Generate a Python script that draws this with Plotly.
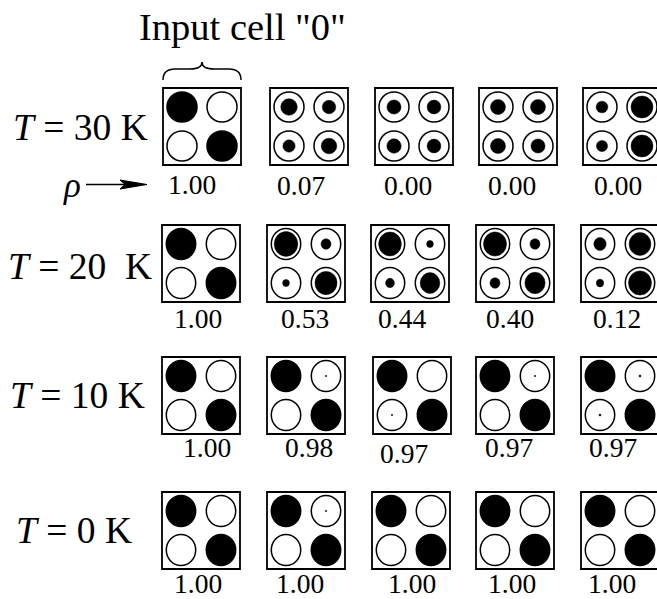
import plotly.graph_objects as go

# ---------------- data ----------------
temperature_labels = ["30", "20", "10", "0"]

# polarization rho of each cell in the line (input cell first)
rho_30K = [1.00, 0.07, 0.00, 0.00, 0.00]
rho_20K = [1.00, 0.53, 0.44, 0.40, 0.12]
rho_10K = [1.00, 0.98, 0.97, 0.97, 0.97]
rho_0K = [1.00, 1.00, 1.00, 1.00, 1.00]

# charge in each quantum dot (radius of filled disc / dot radius), order TL, TR, BL, BR
dots_30K = [[1, 0, 0, 1], [0.55, 0.45, 0.41, 0.52], [0.47, 0.46, 0.48, 0.46],
            [0.50, 0.50, 0.50, 0.47], [0.39, 0.73, 0.37, 0.73]]
dots_20K = [[1, 0, 0, 1], [0.80, 0.34, 0.23, 0.75], [0.77, 0.23, 0.30, 0.67],
            [0.78, 0.34, 0.34, 0.69], [0.42, 0.74, 0.25, 0.78]]
dots_10K = [[1, 0, 0, 1], [1, 0.05, 0, 1], [1, 0, 0.05, 1],
            [1, 0.05, 0, 1], [1, 0.07, 0.07, 1]]
dots_0K = [[1, 0, 0, 1], [1, 0.05, 0, 1], [1, 0, 0, 1],
           [1, 0, 0, 1], [1, 0, 0, 1]]

rows_rho = [rho_30K, rho_20K, rho_10K, rho_0K]
rows_dots = [dots_30K, dots_20K, dots_10K, dots_0K]

# ---------------- layout constants (pixels) ----------------
W, H = 657, 599
row_tops = [88, 225, 357, 492]
col_lefts = [[163, 270, 375, 479, 583],
             [162, 267, 371, 476, 581],
             [162, 267, 373, 476, 581],
             [162, 267, 372, 476, 581]]
box_w, box_h = 78, 77
dot_dx = [19, 59]
dot_dy = [19, 58]
dot_rx = [15, 14.7, 14.7, 14.7]
dot_ry = [15, 15.5, 15.5, 15.5]

label_x = [[192, 301, 408, 512, 618],
           [198, 305, 402, 510, 617],
           [207, 309, 404, 509, 613],
           [198, 300, 412, 512, 612]]
label_y = [[184, 185, 185, 185, 185],
           [318, 318, 318, 318, 318],
           [447, 447, 453, 447, 447],
           [583, 583, 583, 583, 583]]
tlabel_x = [11, 6, 8, 14]
tlabel_y = [127.5, 266, 395, 530]

FONT = "Liberation Serif"

fig = go.Figure()
# invisible trace to establish the axes
fig.add_trace(go.Scatter(x=[0, W], y=[0, H], mode="markers",
                         marker=dict(opacity=0), hoverinfo="skip", showlegend=False))

shapes = []
annotations = []

for r, (rhos, dots) in enumerate(zip(rows_rho, rows_dots)):
    top = row_tops[r]
    for c, (rho, cell) in enumerate(zip(rhos, dots)):
        left = col_lefts[r][c]
        shapes.append(dict(type="rect", xref="x", yref="y",
                           x0=left, x1=left + box_w, y0=top, y1=top + box_h,
                           line=dict(color="black", width=1.8), fillcolor="white"))
        for k, q in enumerate(cell):
            cx = left + dot_dx[k % 2]
            cy = top + dot_dy[k // 2]
            rx, ry = dot_rx[r], dot_ry[r]
            shapes.append(dict(type="circle", xref="x", yref="y",
                               x0=cx - rx, x1=cx + rx, y0=cy - ry, y1=cy + ry,
                               line=dict(color="black", width=1.5),
                               fillcolor="black" if q >= 1 else "white"))
            if 0 < q < 1:
                fr_x = max(q * rx, 0.7)
                fr_y = max(q * ry, 0.7)
                shapes.append(dict(type="circle", xref="x", yref="y",
                                   x0=cx - fr_x, x1=cx + fr_x, y0=cy - fr_y, y1=cy + fr_y,
                                   line=dict(color="black", width=0.5), fillcolor="black"))
        annotations.append(dict(x=label_x[r][c], y=label_y[r][c], xref="x", yref="y",
                                text=f"{rho:.2f}", showarrow=False,
                                xanchor="center", yanchor="middle",
                                font=dict(family=FONT, size=27.5, color="black")))
    sep = "\u00a0\u00a0" if temperature_labels[r] == "20" else " "
    annotations.append(dict(x=tlabel_x[r], y=tlabel_y[r], xref="x", yref="y",
                            text=f"<i>T</i> = {temperature_labels[r]}{sep}K",
                            showarrow=False, xanchor="left", yanchor="middle",
                            font=dict(family=FONT, size=37.5, color="black")))

# title
annotations.append(dict(x=242.5, y=27, xref="x", yref="y", text='Input cell "0"',
                        showarrow=False, xanchor="center", yanchor="middle",
                        font=dict(family=FONT, size=38.5, color="black")))
# rho arrow
annotations.append(dict(x=72, y=185, xref="x", yref="y", text="<i>ρ</i>",
                        showarrow=False, xanchor="center", yanchor="middle",
                        font=dict(family=FONT, size=35, color="black")))
shapes.append(dict(type="line", xref="x", yref="y", x0=86, x1=128, y0=184.5, y1=184.5,
                   line=dict(color="black", width=1.6)))
shapes.append(dict(type="path", xref="x", yref="y",
                   path="M 120 180 L 147 184.5 L 120 189 L 125 184.5 Z",
                   fillcolor="black", line=dict(color="black", width=1)))
# brace over input cell
shapes.append(dict(type="path", xref="x", yref="y",
                   path="M 163 80 Q 163 69 175 69 L 190 69 Q 202 69 202 62 "
                        "Q 202 69 214 69 L 229 69 Q 241 69 241 80",
                   line=dict(color="black", width=1.5)))

fig.update_layout(
    width=W, height=H, margin=dict(l=0, r=0, t=0, b=0),
    paper_bgcolor="white", plot_bgcolor="white",
    xaxis=dict(range=[0, W], visible=False, fixedrange=True),
    yaxis=dict(range=[H, 0], visible=False, fixedrange=True),
    shapes=shapes, annotations=annotations, showlegend=False,
)

fig.write_html("out.html")
